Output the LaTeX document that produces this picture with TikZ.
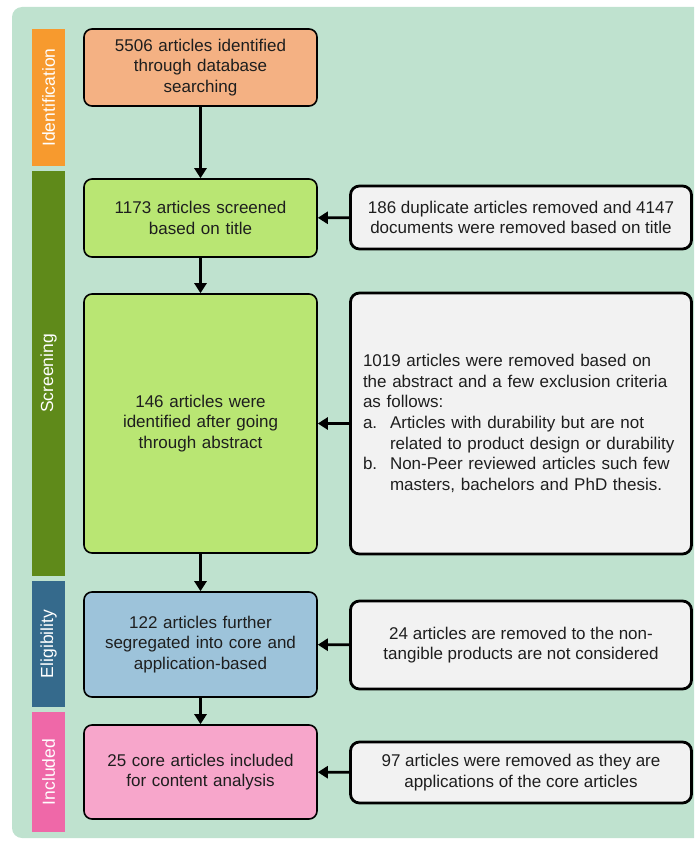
\documentclass[tikz,border=0pt]{standalone}
\usepackage{fontspec}
\setmainfont{Liberation Sans}
\usetikzlibrary{arrows.meta}
\definecolor{bgmint}{HTML}{BFE2CF}
\definecolor{idbar}{HTML}{F79A2E}
\definecolor{idbox}{HTML}{F4B183}
\definecolor{scbar}{HTML}{5F8A1A}
\definecolor{scbox}{HTML}{B9E673}
\definecolor{elbar}{HTML}{356A8C}
\definecolor{elbox}{HTML}{9DC3DA}
\definecolor{inbar}{HTML}{EF68A8}
\definecolor{inbox}{HTML}{F7A6CB}
\definecolor{exbox}{HTML}{F2F2F2}
\definecolor{ink}{HTML}{1E1E1E}
\tikzset{
  txt/.style={text=ink, font=\fontsize{17}{20.7}\selectfont},
  mainbox/.style={txt, draw=black, line width=1.6pt, rounded corners=8pt,
    align=center, minimum width=233pt, inner sep=0pt, text width=225pt},
  exclbox/.style={txt, draw=black, line width=2.8pt, rounded corners=9pt,
    fill=exbox, minimum width=341pt, inner sep=0pt},
  phase/.style={minimum width=33pt, inner sep=0pt, text=white,
    font=\fontsize{17.5}{18}\selectfont},
  flow/.style={line width=2.8pt, -{Triangle[length=10pt,width=12pt]}},
}
\begin{document}
\begin{tikzpicture}[x=1pt,y=-1pt]
\useasboundingbox (0,0) rectangle (694,843);
\clip (0,0) rectangle (694,843);
% panel
\fill[bgmint, rounded corners=10pt] (12,7) rectangle (720,838);

% phase bars
\node[phase, fill=idbar, minimum height=137pt] (pid) at (48.5,97.5) {\rotatebox{90}{Identification}};
\node[phase, fill=scbar, minimum height=405pt] (psc) at (48.5,373.5) {\rotatebox{90}{Screening}};
\node[phase, fill=elbar, minimum height=126pt] (pel) at (48.5,644) {\rotatebox{90}{Eligibility}};
\node[phase, fill=inbar, minimum height=120pt] (pin) at (48.5,772) {\rotatebox{90}{Included}};

% main flow boxes
\node[mainbox, fill=idbox, minimum height=77pt] (b1) at (200.5,67.5)
  {5506 articles identified\\through database\\searching};
\node[mainbox, fill=scbox, minimum height=78pt] (b2) at (200.5,218)
  {1173 articles screened\\based on title};
\node[mainbox, fill=scbox, minimum height=259pt] (b3) at (200.5,423.5)
  {146 articles were\\identified after going\\through abstract};
\node[mainbox, fill=elbox, minimum height=105pt] (b4) at (200.5,644.5)
  {122 articles further\\segregated into core and\\application-based};
\node[mainbox, fill=inbox, minimum height=94pt] (b5) at (200.5,772)
  {25 core articles included\\for content analysis};

% exclusion boxes
\node[exclbox, minimum height=63pt, align=center] (e1) at (521,217.5)
  {186 duplicate articles removed and 4147\\documents were removed based on title};
\node[exclbox, minimum height=261pt, align=left, text width=316pt] (e2) at (521,423.5)
  {1019 articles were removed based on\\
   the abstract and a few exclusion criteria\\
   as follows:\\
   \makebox[27pt][l]{a.}Articles with durability but are not\\
   \hspace*{27pt}related to product design or durability\\
   \makebox[27pt][l]{b.}Non-Peer reviewed articles such few\\
   \hspace*{27pt}masters, bachelors and PhD thesis.};
\node[exclbox, minimum height=88pt, align=center] (e3) at (521,645)
  {24 articles are removed to the non-\\tangible products are not considered};
\node[exclbox, minimum height=61pt, align=center] (e4) at (521,772.5)
  {97 articles were removed as they are\\applications of the core articles};

% connectors
\draw[flow] (b1) -- (b2);
\draw[flow] (b2) -- (b3);
\draw[flow] (b3) -- (b4);
\draw[flow] (b4) -- (b5);
\draw[flow] (e1) -- (b2);
\draw[flow] (e2) -- (b3);
\draw[flow] (e3) -- (b4);
\draw[flow] (e4) -- (b5);
\end{tikzpicture}
\end{document}
